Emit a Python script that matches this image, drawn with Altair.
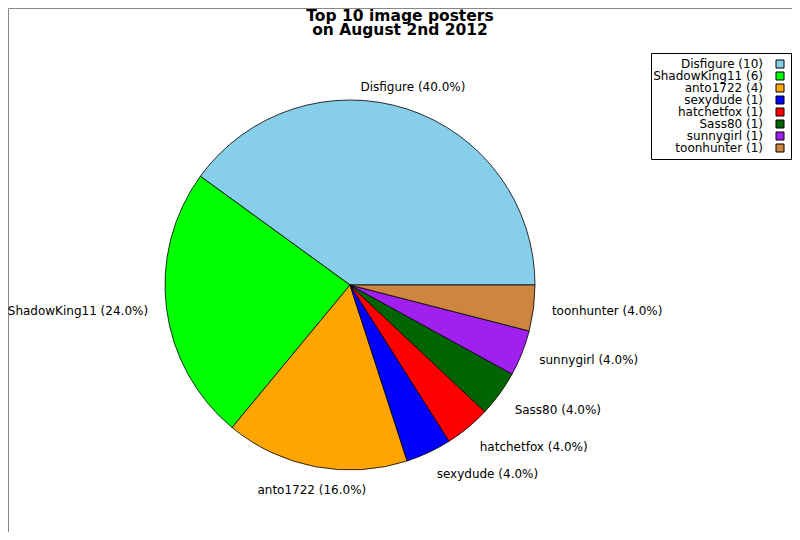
import math
import altair as alt
import pandas as pd

posters = ['Disfigure', 'ShadowKing11', 'anto1722', 'sexydude',
           'hatchetfox', 'Sass80', 'sunnygirl', 'toonhunter']
images = [10, 6, 4, 1, 1, 1, 1, 1]
colors = ['#87CEEB', '#00FF00', '#FFA500', '#0000FF',
          '#FF0000', '#006400', '#A020F0', '#CD853F']

total = sum(images)
legend_names = ['{} ({})'.format(p, n) for p, n in zip(posters, images)]
pie_labels = ['{} ({:.1f}%)'.format(p, 100.0 * n / total) for p, n in zip(posters, images)]

df = pd.DataFrame({
    'poster': posters,
    'images': images,
    'order': list(range(len(posters))),
    'legend': legend_names,
    'label': pie_labels,
})

FONT = 'DejaVu Sans'
cx, cy = 342, 277   # pie centre inside the view
r = 185

# start at 3 o'clock and go counter-clockwise like the original
theta_scale = alt.Scale(domain=[0, total], range=[math.pi / 2, math.pi / 2 - 2 * math.pi])

base = alt.Chart(df)

# legend: labels right-aligned, swatch on their right
pie = base.mark_arc(outerRadius=r, stroke='black', strokeWidth=0.8).encode(
    theta=alt.Theta('images:Q', stack=True, scale=theta_scale),
    order=alt.Order('order:O'),
    fill=alt.Fill('legend:N', scale=alt.Scale(domain=legend_names, range=colors),
                  legend=alt.Legend(
                      title=None, orient='none', legendX=643, legendY=45,
                      strokeColor='black', fillColor='white', padding=5,
                      labelFont=FONT, labelFontSize=12, labelColor='black',
                      labelAlign='right', labelOffset={'expr': '-23'}, symbolOffset=118,
                      symbolType='square', symbolSize=64,
                      symbolStrokeColor='black', symbolStrokeWidth=1,
                      rowPadding=0)),
    x=alt.value(cx),
    y=alt.value(cy),
)

mids = base.transform_window(
    cum='sum(images)', sort=[alt.SortField('order')], frame=[None, 0]
).transform_calculate(mid='datum.cum - datum.images / 2')

groups = [
    (['Disfigure'], 'center', 'alphabetic'),
    (['anto1722'], 'center', 'top'),
    (['ShadowKing11'], 'right', 'middle'),
    (['sexydude', 'hatchetfox', 'Sass80'], 'left', 'top'),
    (['sunnygirl', 'toonhunter'], 'left', 'middle'),
]

layers = [pie]
for names, align, baseline in groups:
    layers.append(
        mids.transform_filter(alt.FieldOneOfPredicate(field='poster', oneOf=names))
        .mark_text(radius=r * 1.1, align=align, baseline=baseline,
                   font=FONT, fontSize=12, color='black')
        .encode(theta=alt.Theta('mid:Q', stack=None, scale=theta_scale),
                text='label:N', x=alt.value(cx), y=alt.value(cy))
    )

chart = alt.layer(*layers).properties(
    width=784, height=524, padding=0, autosize='none',
    title=alt.Title(['Top 10 image posters', 'on August 2nd 2012'],
                    font=FONT, fontSize=15.5, fontWeight='bold', color='black',
                    lineHeight=14, anchor='middle', dy=34),
).configure_view(stroke='#888888', strokeWidth=1)

chart.save('out.html', embed_options={'renderer': 'svg', 'actions': False})
